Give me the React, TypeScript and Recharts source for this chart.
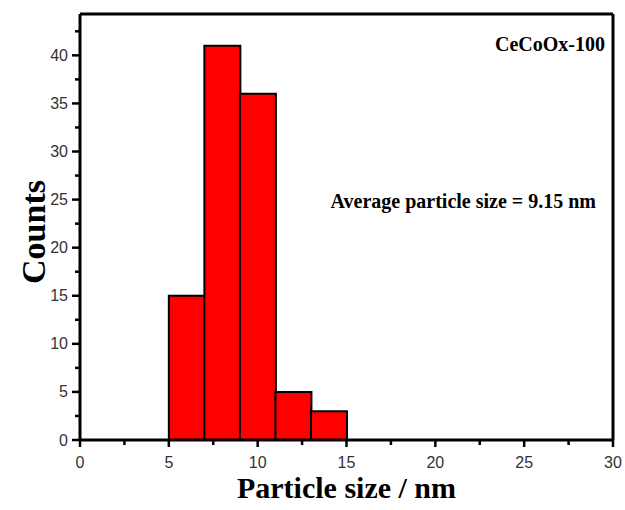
import React from 'react';
import { ComposedChart, Bar, XAxis, YAxis, Customized } from 'recharts';

// histogram bins (centre of each 2 nm bin) and counts
const binCentres = [6, 8, 10, 12, 14];
const counts = [15, 41, 36, 5, 3];

const xTicks = [0, 2.5, 5, 7.5, 10, 12.5, 15, 17.5, 20, 22.5, 25, 27.5, 30];
const yTicks = [0, 2.5, 5, 7.5, 10, 12.5, 15, 17.5, 20, 22.5, 25, 27.5, 30, 32.5, 35, 37.5, 40, 42.5];

const sampleName = 'CeCoOx-100';
const avgNote = 'Average particle size = 9.15 nm';

const data = binCentres.map((size, i) => ({ size, count: counts[i] }));

const serif = '"Liberation Serif", "Times New Roman", serif';
const sans = '"Liberation Sans", Arial, sans-serif';

const YTick = (props: any) => {
  const { x, y, payload } = props;
  const major = payload.value % 5 === 0;
  return (
    <g>
      <line x1={x} x2={x - (major ? 8 : 5)} y1={y} y2={y} stroke="#000" strokeWidth={2.5} />
      {major && (
        <text x={x - 12} y={y} dy={5.5} textAnchor="end" fontSize={16} fontFamily={sans} fill="#333">
          {payload.value}
        </text>
      )}
    </g>
  );
};

const XTick = (props: any) => {
  const { x, y, payload } = props;
  const major = payload.value % 5 === 0;
  return (
    <g>
      <line x1={x} x2={x} y1={y} y2={y + (major ? 7 : 5)} stroke="#000" strokeWidth={2.5} />
      {major && (
        <text x={x} y={y + 28} textAnchor="middle" fontSize={16} fontFamily={sans} fill="#333">
          {payload.value}
        </text>
      )}
    </g>
  );
};

const Notes = () => (
  <g fontFamily={serif} fontWeight="bold" fontSize={20} fill="#000">
    <text x={605} y={51} textAnchor="end">{sampleName}</text>
    <text x={596} y={208} textAnchor="end">{avgNote}</text>
  </g>
);

export default function App() {
  return (
    <div style={{ position: 'absolute', left: 0, top: 0, width: 625, height: 510, background: '#fff' }}>
      <ComposedChart
        width={625}
        height={510}
        data={data}
        margin={{ top: 13, right: 11, left: 0, bottom: 0 }}
        barCategoryGap={0}
        barGap={0}
      >
        <XAxis
          dataKey="size"
          type="number"
          domain={[0, 30]}
          ticks={xTicks}
          interval={0}
          height={70}
          tickSize={0}
          tickMargin={0}
          tickLine={false}
          tick={<XTick />}
          axisLine={{ stroke: '#000', strokeWidth: 3 }}
          label={{
            value: 'Particle size / nm',
            position: 'insideBottom',
            offset: 12,
            fontSize: 30,
            fontWeight: 'bold',
            fontFamily: serif,
            fill: '#000',
          }}
        />
        <XAxis
          xAxisId="top"
          orientation="top"
          type="number"
          domain={[0, 30]}
          ticks={[0, 30]}
          height={1}
          tickSize={0}
          tick={false}
          tickLine={false}
          axisLine={{ stroke: '#000', strokeWidth: 3 }}
        />
        <YAxis
          type="number"
          domain={[0, 44.3]}
          ticks={yTicks}
          interval={0}
          width={80}
          tickSize={0}
          tickMargin={0}
          tickLine={false}
          tick={<YTick />}
          axisLine={{ stroke: '#000', strokeWidth: 3 }}
          label={{
            value: 'Counts',
            content: (p: any) => {
              const vb = p.viewBox || { x: 0, y: 14, width: 80, height: 426 };
              const cx = vb.x + 45;
              const cy = vb.y + vb.height / 2 + 5;
              return (
                <text
                  x={cx}
                  y={cy}
                  transform={`rotate(-90 ${cx} ${cy})`}
                  textAnchor="middle"
                  fontSize={34}
                  fontWeight="bold"
                  fontFamily={serif}
                  fill="#000"
                >
                  Counts
                </text>
              );
            },
          }}
        />
        <YAxis
          yAxisId="right"
          orientation="right"
          type="number"
          domain={[0, 44.3]}
          ticks={[0, 40]}
          width={1}
          tickSize={0}
          tick={false}
          tickLine={false}
          axisLine={{ stroke: '#000', strokeWidth: 3 }}
        />
        <Bar dataKey="count" fill="#ff0000" stroke="#000" strokeWidth={2} isAnimationActive={false} />
        <Customized component={Notes} />
      </ComposedChart>
    </div>
  );
}
